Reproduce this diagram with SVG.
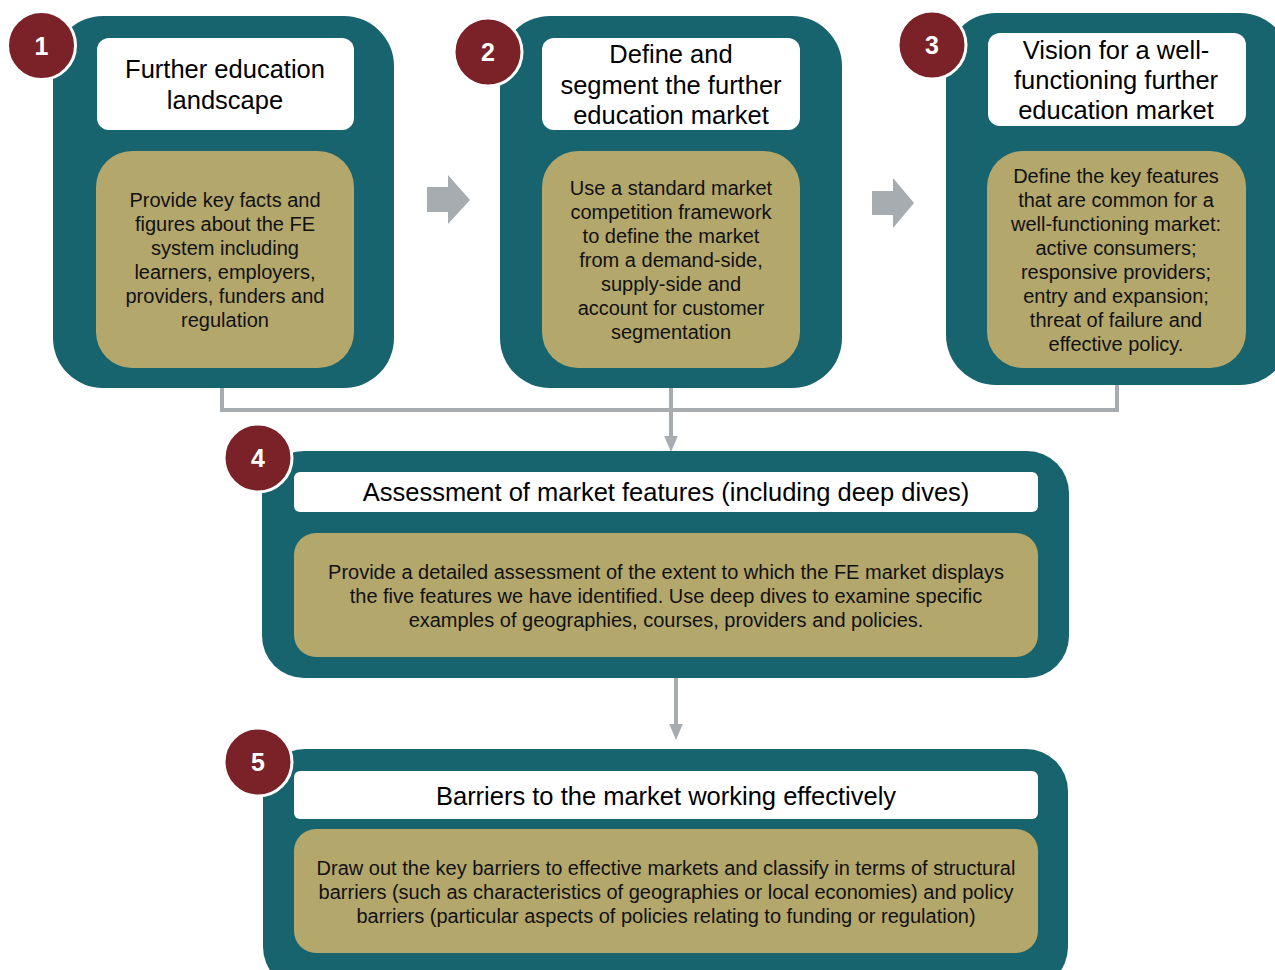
<svg xmlns="http://www.w3.org/2000/svg" width="1275" height="970" viewBox="0 0 1275 970">
<style>
.outer{fill:#17646E}
.head{fill:#FFFFFF}
.body{fill:#B3A76C}
.badge{fill:#7A2228;stroke:#FFFFFF;stroke-width:3}
.num{font-family:"Liberation Sans",Arial,sans-serif;font-weight:bold;font-size:25px;fill:#FFFFFF;text-anchor:middle}
.t{font-family:"Liberation Sans",Arial,sans-serif;font-size:25.5px;fill:#000;text-anchor:middle}
.b{font-family:"Liberation Sans",Arial,sans-serif;font-size:20px;fill:#111;text-anchor:middle}
.conn{fill:none;stroke:#A6ACAF;stroke-width:4}
.blk{fill:#A6ACAF}
</style>
<defs>
<marker id="ah" markerWidth="4" markerHeight="4" refX="0" refY="2" orient="auto" markerUnits="strokeWidth">
<path d="M0,0.3 L4,2 L0,3.7 Z" fill="#A6ACAF"/>
</marker>
</defs>
<rect width="1275" height="970" fill="#FFFFFF"/>
<g id="connectors">
<path class="conn" d="M222,388 V410 H1117 V385"/>
<path class="conn" d="M671,388 V436" marker-end="url(#ah)"/>
<path class="conn" d="M676,678 V724" marker-end="url(#ah)"/>
<polygon class="blk" points="427,187 448,187 448,175 470,200 448,224 448,212 427,212"/>
<polygon class="blk" points="872,191 893,191 893,178 914,203 893,228 893,215 872,215"/>
</g>
<g id="node1">
<rect class="outer" x="53" y="16" width="341" height="372" rx="50"/>
<rect class="head" x="97" y="38" width="257" height="92" rx="12"/>
<rect class="body" x="96" y="151" width="258" height="217" rx="36"/>
<text class="t" x="225" y="78">Further education</text>
<text class="t" x="225" y="109">landscape</text>
<text class="b" x="225" y="207">Provide key facts and</text>
<text class="b" x="225" y="231">figures about the FE</text>
<text class="b" x="225" y="255">system including</text>
<text class="b" x="225" y="279">learners, employers,</text>
<text class="b" x="225" y="303">providers, funders and</text>
<text class="b" x="225" y="327">regulation</text>
<circle class="badge" cx="41.5" cy="45.5" r="34"/>
<text class="num" x="41.5" y="54.5">1</text>
</g>
<g id="node2">
<rect class="outer" x="500" y="16" width="342" height="372" rx="50"/>
<rect class="head" x="542" y="38" width="258" height="92" rx="12"/>
<rect class="body" x="542" y="151" width="258" height="217" rx="36"/>
<text class="t" x="671" y="63">Define and</text>
<text class="t" x="671" y="93.5">segment the further</text>
<text class="t" x="671" y="124">education market</text>
<text class="b" x="671" y="195">Use a standard market</text>
<text class="b" x="671" y="219">competition framework</text>
<text class="b" x="671" y="243">to define the market</text>
<text class="b" x="671" y="267">from a demand-side,</text>
<text class="b" x="671" y="291">supply-side and</text>
<text class="b" x="671" y="315">account for customer</text>
<text class="b" x="671" y="339">segmentation</text>
<circle class="badge" cx="488" cy="52" r="34"/>
<text class="num" x="488" y="61">2</text>
</g>
<g id="node3">
<rect class="outer" x="946" y="13" width="344" height="372" rx="50"/>
<rect class="head" x="988" y="33" width="258" height="93" rx="12"/>
<rect class="body" x="987" y="151" width="259" height="217" rx="36"/>
<text class="t" x="1116" y="59">Vision for a well-</text>
<text class="t" x="1116" y="89">functioning further</text>
<text class="t" x="1116" y="119">education market</text>
<text class="b" x="1116" y="183">Define the key features</text>
<text class="b" x="1116" y="207">that are common for a</text>
<text class="b" x="1116" y="231">well-functioning market:</text>
<text class="b" x="1116" y="255">active consumers;</text>
<text class="b" x="1116" y="279">responsive providers;</text>
<text class="b" x="1116" y="303">entry and expansion;</text>
<text class="b" x="1116" y="327">threat of failure and</text>
<text class="b" x="1116" y="351">effective policy.</text>
<circle class="badge" cx="932" cy="45" r="34"/>
<text class="num" x="932" y="54">3</text>
</g>
<g id="node4">
<rect class="outer" x="262" y="451" width="807" height="227" rx="42"/>
<rect class="head" x="294" y="472" width="744" height="40" rx="6"/>
<rect class="body" x="294" y="533" width="744" height="124" rx="22"/>
<text class="t" x="666" y="501">Assessment of market features (including deep dives)</text>
<text class="b" x="666" y="579">Provide a detailed assessment of the extent to which the FE market displays</text>
<text class="b" x="666" y="603">the five features we have identified. Use deep dives to examine specific</text>
<text class="b" x="666" y="627">examples of geographies, courses, providers and policies.</text>
<circle class="badge" cx="258" cy="458" r="34"/>
<text class="num" x="258" y="467">4</text>
</g>
<g id="node5">
<rect class="outer" x="263" y="749" width="805" height="240" rx="42"/>
<rect class="head" x="294" y="771" width="744" height="48" rx="6"/>
<rect class="body" x="294" y="829" width="744" height="124" rx="22"/>
<text class="t" x="666" y="805">Barriers to the market working effectively</text>
<text class="b" x="666" y="875">Draw out the key barriers to effective markets and classify in terms of structural</text>
<text class="b" x="666" y="899">barriers (such as characteristics of geographies or local economies) and policy</text>
<text class="b" x="666" y="923">barriers (particular aspects of policies relating to funding or regulation)</text>
<circle class="badge" cx="258" cy="762" r="34"/>
<text class="num" x="258" y="771">5</text>
</g>
</svg>
